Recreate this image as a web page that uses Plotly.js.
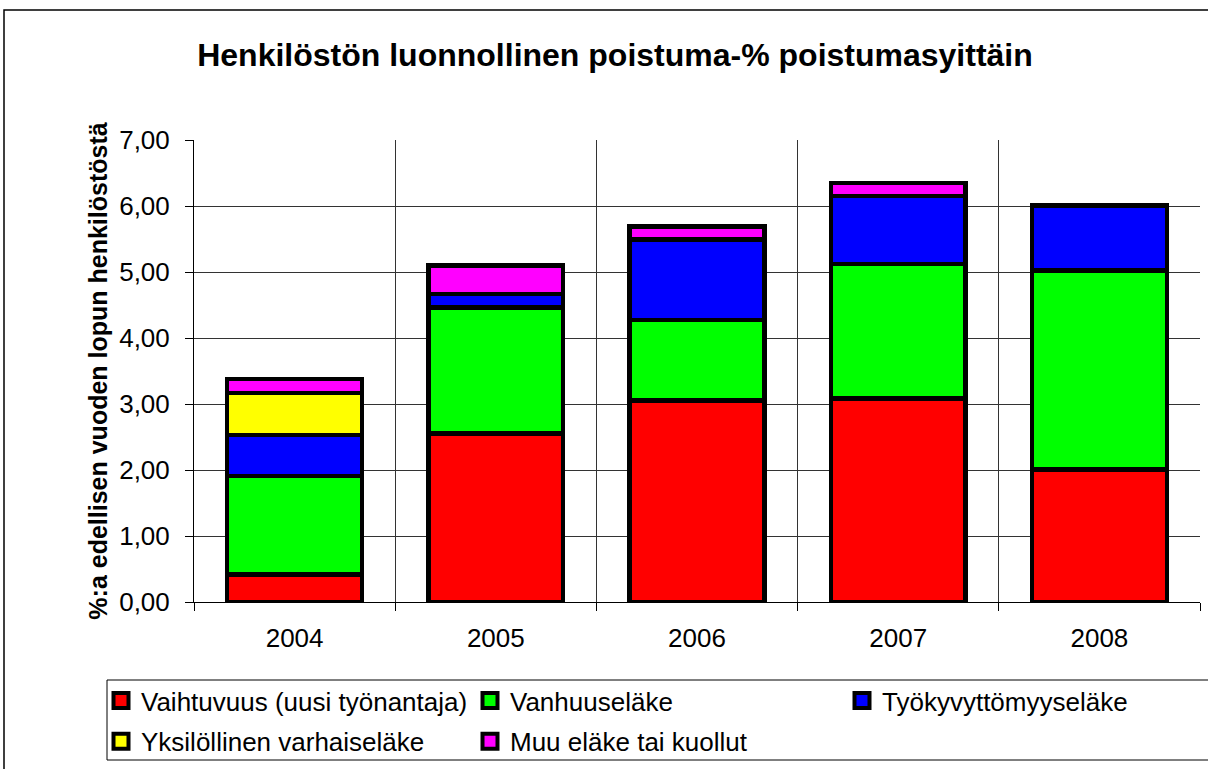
<!DOCTYPE html>
<html>
<head>
<meta charset="utf-8">
<script src="https://cdn.plot.ly/plotly-3.0.1.min.js"></script>
<style>html,body{margin:0;padding:0;background:#fff;}#chart{width:1208px;height:769px;}</style>
</head>
<body>
<div id="chart"></div>
<script>
const years = ["2004", "2005", "2006", "2007", "2008"];
const seriesNames = ["Vaihtuvuus (uusi työnantaja)", "Vanhuuseläke", "Työkyvyttömyyseläke", "Yksilöllinen varhaiseläke", "Muu eläke tai kuollut"];
const vaihtuvuus = [0.42, 2.55, 3.05, 3.08, 2.01];
const vanhuuselake = [1.49, 1.91, 1.22, 2.04, 3.01];
const tyokyvyttomyyselake = [0.62, 0.21, 1.22, 1.03, 0.99];
const varhaiselake = [0.64, null, null, null, null];
const muuTaiKuollut = [0.21, 0.43, 0.20, 0.20, null];
const colors = ["#ff0000", "#00ff00", "#0000ff", "#ffff00", "#ff00ff"];
const yTicks = [0, 1, 2, 3, 4, 5, 6, 7];
// which legend column each series goes in (Excel-like 3-column layout)
const legendOf = ["legend", "legend2", "legend3", "legend", "legend2"];

const allSeries = [vaihtuvuus, vanhuuselake, tyokyvyttomyyselake, varhaiselake, muuTaiKuollut];
const traces = allSeries.map((vals, i) => ({
  type: "bar",
  name: seriesNames[i],
  x: years,
  y: vals,
  marker: {color: colors[i], line: {color: "#000", width: 4.5}},
  showlegend: false,
  hoverinfo: "name+y"
}));
// legend entries with Excel-style square swatches
allSeries.forEach((vals, i) => {
  traces.push({
    type: "scatter", mode: "markers",
    name: seriesNames[i],
    x: [null], y: [null],
    legend: legendOf[i],
    legendgroup: "g" + i,
    marker: {symbol: "square", size: 15, color: colors[i], line: {color: "#000", width: 4}},
    showlegend: true
  });
});

const font = "Liberation Sans, Arial, sans-serif";
const W = 1006, H = 462, L = 194, T = 140;
const px = v => (v - L) / W;
const py = v => (T + H - v) / H;
const legendCommon = {
  orientation: "v",
  xanchor: "left", yanchor: "top",
  bgcolor: "rgba(0,0,0,0)", borderwidth: 0,
  font: {size: 26, family: font, color: "#000"},
  itemwidth: 30,
  tracegroupgap: 4,
  itemsizing: "trace"
};
const layout = {
  width: 1208, height: 769,
  margin: {l: L, r: 1208 - L - W, t: T, b: 769 - T - H, autoexpand: false},
  barmode: "stack",
  bargap: 0.33,
  separators: ", ",
  paper_bgcolor: "#fff",
  plot_bgcolor: "#fff",
  font: {family: font, color: "#000"},
  title: {text: "<b>Henkilöstön luonnollinen poistuma-% poistumasyittäin</b>", font: {size: 32, family: font, color: "#000"}, x: 615 / 1208, xanchor: "center", y: 1 - 55 / 769, yanchor: "middle"},
  xaxis: {
    type: "category",
    tickson: "boundaries",
    ticks: "outside", ticklen: 8, tickcolor: "#000",
    showgrid: true, gridcolor: "#333", gridwidth: 1,
    showline: true, linecolor: "#000", linewidth: 1,
    tickfont: {size: 26, family: font, color: "#000"},
    ticklabelstandoff: 13,
    range: [-0.5, 4.5]
  },
  yaxis: {
    range: [0, 7],
    tickvals: yTicks,
    tickformat: ".2f",
    ticks: "outside", ticklen: 8, tickcolor: "#000",
    showgrid: true, gridcolor: "#333", gridwidth: 1,
    showline: true, linecolor: "#000", linewidth: 1,
    zeroline: false,
    tickfont: {size: 26, family: font, color: "#000"},
    ticklabelstandoff: 10,
    title: {text: "<b>%:a edellisen vuoden lopun henkilöstöstä</b>", font: {size: 25, family: font, color: "#000"}, standoff: 4}
  },
  legend: Object.assign({}, legendCommon, {x: px(101), y: py(677)}),
  legend2: Object.assign({}, legendCommon, {x: px(470), y: py(677)}),
  legend3: Object.assign({}, legendCommon, {x: px(842), y: py(677)}),
  shapes: [
    {type: "rect", xref: "paper", yref: "paper", x0: px(4), x1: px(1230), y0: py(800), y1: py(10), line: {color: "#000", width: 1.5}},
    {type: "rect", xref: "paper", yref: "paper", x0: px(107), x1: px(1230), y0: py(760), y1: py(680), line: {color: "#000", width: 1}}
  ]
};
Plotly.newPlot("chart", traces, layout, {displayModeBar: false, staticPlot: true});
</script>
</body>
</html>
